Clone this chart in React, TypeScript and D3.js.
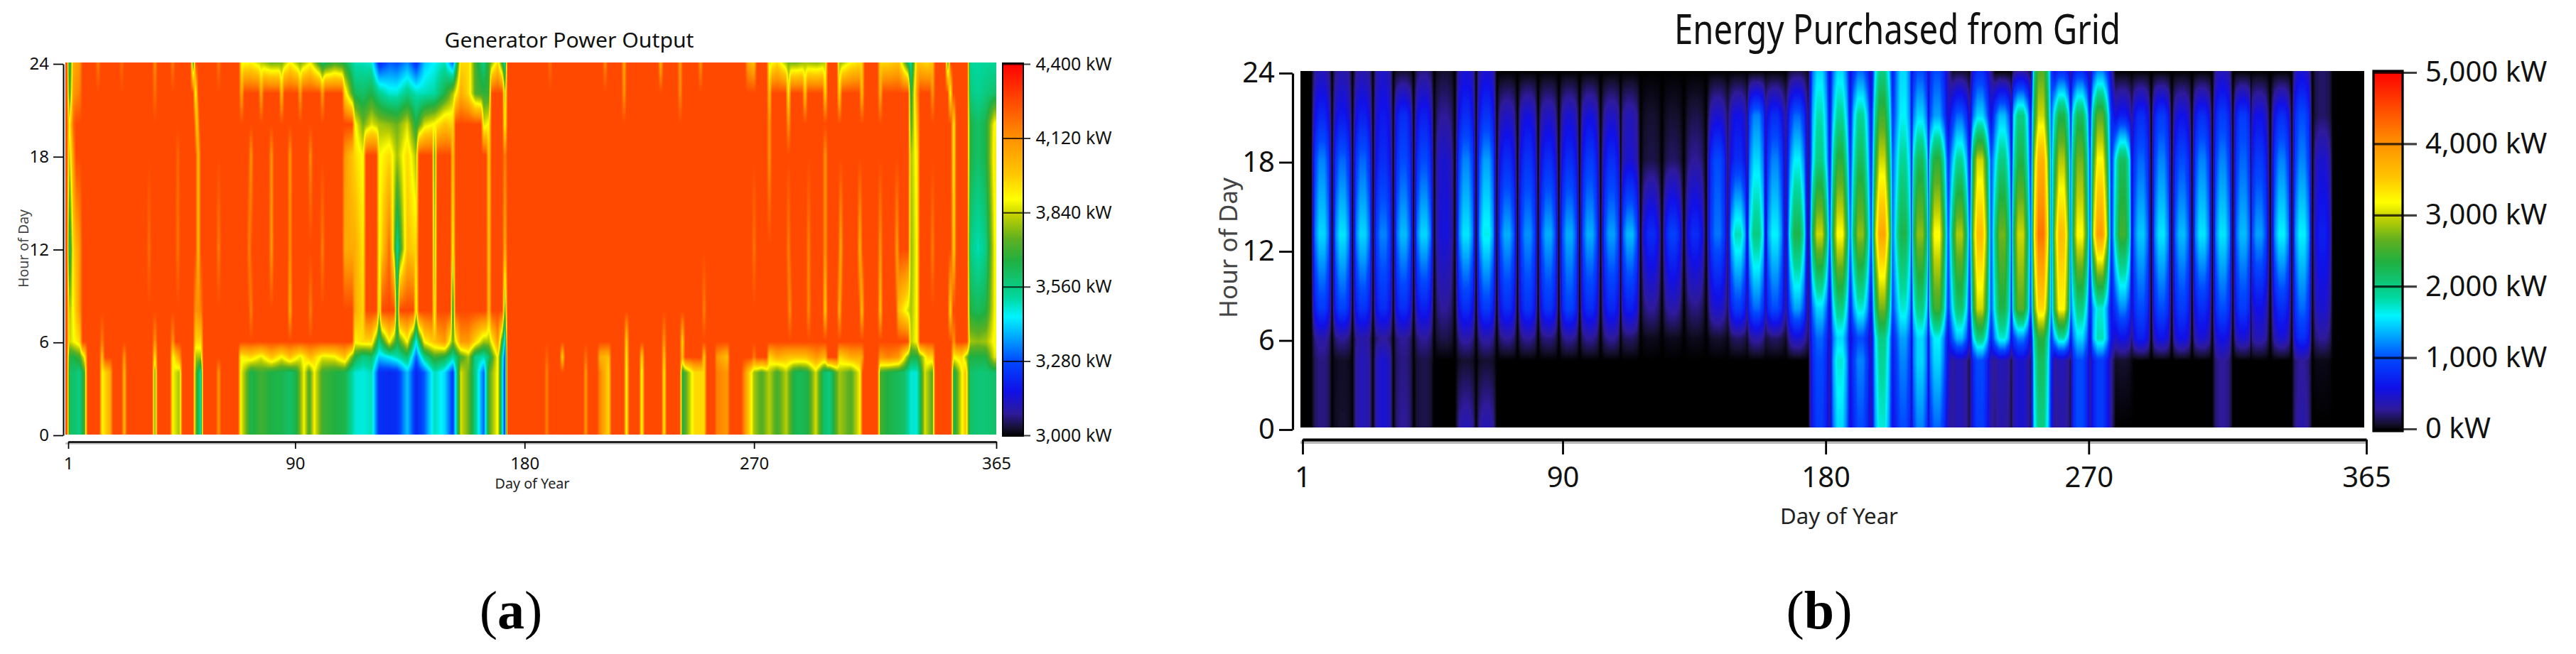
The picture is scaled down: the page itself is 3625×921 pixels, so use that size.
import * as d3 from "d3";
import { useEffect, useRef } from "react";

// shared colour ramp, position on the bar (0 = bottom, 1 = top)
const rampStops = [0, 0.02, 0.06, 0.12, 0.2, 0.26, 0.32, 0.37, 0.47, 0.53, 0.59, 0.635, 0.7, 0.8, 0.9, 1];
const rampColors = ["#000000", "#14102e", "#2e1a9a", "#1010e8", "#0048ff", "#00a0ff", "#00f4ff", "#00d8a0", "#20b040", "#60b020", "#c0d000", "#ffff00", "#ffc800", "#ff9000", "#ff4800", "#ff0000"];

const dayTicks = [1, 90, 180, 270, 365];
const hourTicks = [0, 6, 12, 18, 24];
const genLegend = [3000, 3280, 3560, 3840, 4120, 4400];
const gridLegend = [0, 1000, 2000, 3000, 4000, 5000];

// (a) generator: flat output, with dips read as [day, kW] per hour row
const genPlateau = 4260;
const dipsNight = [[1.5,3600],[3,3600],[5.5,3560],[7.5,3720],[14.3,3900],[17.5,4050],[23,4020],[35,3720],[42,3880],[44.7,3800],[51,3750],[53,3500],[60,4100],[68.7,3880],[72.7,3640],[76.7,3700],[80.7,3650],[84.7,3640],[88,3600],[90.5,3650],[93.5,3880],[95.5,3700],[97.5,3880],[100.7,3700],[105.5,3660],[109.5,3640],[113.5,3480],[116.7,3470],[120,3500],[123,3230],[127,3220],[130,3230],[134,3400],[137.5,3210],[140.7,3300],[144.7,3500],[148.7,3420],[151.9,3250],[155,3850],[158,3750],[160.7,3550],[164,3300],[166,3720],[169.5,3900],[172.3,3220],[188.7,4150],[204,4100],[209.5,4150],[213,3950],[220,3870],[226,3850],[234.7,3920],[241.9,3650],[246.7,3950],[250.4,3950],[255.5,4150],[259.5,4100],[266,4150],[270,3800],[273,3720],[276,3820],[279,3700],[282.6,3820],[285.5,3650],[288,3620],[291,3650],[294.2,3850],[297,3620],[299.5,3560],[303.5,3800],[308,3720],[311.5,3880],[319.5,3700],[322.7,3650],[326.7,3620],[329,3600],[331.5,3480],[334,3480],[337,3850],[340,3720],[348.3,3620],[351.5,3880],[353,4000],[354.7,3600],[357.9,3580],[361,3580],[364.3,3600]];
const dipsH5 = [[1.5,3650],[3,3650],[5.5,3700],[7.5,3900],[14.3,4000],[23,4100],[35,3900],[42,3880],[44.7,4100],[51,3800],[53,3800],[68.7,3900],[72.7,3950],[76.7,3860],[80.7,4000],[84.7,3880],[88,4000],[92,3860],[96,4020],[100.7,3860],[105.5,3880],[109.5,4000],[113.5,3660],[116.7,3560],[120,3600],[123,3400],[127,3450],[130,3500],[134,3600],[137.5,3300],[140.7,3550],[144.7,3700],[148.7,3650],[151.9,3520],[155,3700],[158,3800],[160.7,3550],[164,3500],[166,3600],[169.5,3900],[172.3,3260],[188.7,4200],[194.8,3950],[204,4180],[209.5,4050],[213,4000],[220,3900],[226,3950],[234.7,4000],[241.9,4000],[250.4,3970],[255.5,4100],[259.5,4000],[270,4150],[276,3950],[279,4050],[283.5,4000],[286.7,4000],[290,4000],[294.7,4100],[297.9,4020],[303.5,3950],[308,4050],[312.3,4050],[319.5,4100],[322.7,4150],[326.7,4100],[331.5,3650],[334,3650],[338,3950],[340,3950],[348.3,3900],[351.5,3950],[354.7,3650],[357.9,3650],[361,3650],[364.3,3860]];
const dipsH6 = [[1.5,3830],[3,3880],[5.5,3950],[14.3,4150],[35,4100],[42,4100],[51,3950],[53,3950],[113.5,3900],[116.7,3950],[120,3950],[123,3560],[127,3900],[130,3650],[134,3900],[137.5,3450],[140.7,3900],[144.7,4000],[148.7,4100],[151.9,3750],[155,4100],[158,4100],[160.7,3950],[164,3800],[166,3800],[169.5,4100],[172.3,3400],[220,3950],[234.7,4100],[241.9,3950],[331.5,3820],[334,3900],[348.3,4100],[354.7,3800],[357.9,3780],[361,3800],[364.3,3900]];
const dipsH8 = [[1.5,3800],[3,3900],[5.5,4100],[51,4100],[53,4150],[72.7,4150],[88,4050],[96,4150],[113.5,4050],[116.7,3950],[123,3800],[130,3550],[137.5,3850],[144.7,3850],[151.9,3600],[166,4000],[172.3,3700],[250.4,4150],[284,4120],[291.4,4120],[297.9,3980],[303.5,4040],[312.3,4000],[319.5,4000],[326.7,4000],[331.5,3800],[334,3900],[347,3950],[354.7,3650],[357.9,3620],[361,3650],[364.3,3880]];
const dipsH12 = [[1.5,3560],[3,3950],[5.5,4100],[32.7,4180],[44,4170],[52,4000],[60,4150],[72,4150],[80.7,4080],[88,4120],[100.7,4150],[109.5,4050],[113.5,4050],[116.7,3920],[123,3880],[127,4200],[130,3520],[134,4000],[137.5,3950],[144.7,3780],[151.9,3880],[166,3980],[172.3,4050],[270,4170],[283.5,4150],[291.4,4140],[297.9,4100],[304,4050],[311.5,4030],[319.5,4100],[326,4080],[331.5,3780],[334,3900],[340,4150],[348.3,3950],[354.7,3560],[357.9,3500],[361,3560],[364.3,3880]];
const dipsH18 = [[1.5,3800],[3,4100],[44,4200],[52,4000],[72.7,4100],[80.7,4100],[88,4100],[96,4120],[109.5,4100],[113.5,3950],[116.7,3880],[123,3880],[127,3950],[130,3800],[134,3950],[137.5,3800],[144.7,3700],[151.9,4000],[166,3960],[172.3,4150],[276,4100],[297.9,4100],[331.5,3800],[334,3920],[348.3,3900],[354.7,3650],[357.9,3600],[361,3650],[364.3,3920]];
const dipsH20 = [[1.5,3880],[3,4200],[51.5,3950],[113.5,3900],[116.7,3750],[120,3860],[123,3800],[127,3780],[130,3750],[134,3850],[137.5,3650],[140.7,3850],[144.7,3900],[148.7,4000],[151.9,3950],[164,3850],[166,3900],[172.3,3880],[276,4100],[283.5,4100],[331.5,3700],[334,4000],[348.3,3900],[354.7,3650],[357.9,3600],[361,3650],[364.3,3900]];
const dipsH22 = [[1.5,3650],[3,4100],[5.5,4150],[35,4180],[51,3870],[69,4050],[76.7,4050],[84.7,4000],[92,4080],[100.7,4080],[109.5,3950],[113.5,3620],[116.7,3600],[120,3650],[123,3550],[127,3480],[130,3480],[134,3560],[137.5,3500],[140.7,3500],[144.7,3520],[148.7,3650],[151.9,3800],[155,4050],[158,3950],[160.7,3720],[164,3680],[166,3680],[172.3,3800],[219,4100],[241,4120],[276,4000],[283.5,3900],[290,3980],[297.9,3950],[303.5,3950],[312.3,4000],[319.5,4040],[331.5,3620],[334,4100],[340,4100],[347,3880],[354.7,3570],[357.9,3540],[361,3570],[364.3,3600]];
const dipsH24 = [[1.5,3560],[3,4050],[5.5,4100],[12.7,4150],[22,4180],[35,4120],[42,4150],[50,3650],[60,4160],[69,3880],[72.7,3900],[76.7,3820],[80.7,3750],[84.7,3760],[88,3900],[92,3760],[96,3880],[100.7,3600],[105.5,3700],[109.5,3640],[113.5,3500],[116.7,3500],[120,3480],[123,3220],[127,3300],[130,3280],[134,3350],[137.5,3230],[140.7,3400],[144.7,3450],[148.7,3500],[151.9,3300],[155,3950],[158,3950],[160.7,3700],[164,3560],[166,3700],[169.5,3950],[172.3,3500],[190,4180],[211.6,4120],[219,4050],[233.4,4020],[241,4080],[249,4100],[267.5,4080],[270,4000],[276,3850],[279,3950],[283.5,3760],[286.7,3760],[290,3800],[294.7,3780],[297.9,3820],[303.5,3780],[308,3900],[312.3,3950],[319.5,3950],[322.7,3960],[326.7,4000],[331.5,3510],[334,4000],[338,3950],[340,4000],[346,3680],[354.7,3530],[357.9,3520],[361,3530],[364.3,3530]];

const genHours = [0, 4, 5, 6, 8, 12, 18, 20, 22, 24];
const genDips = [dipsNight, dipsNight, dipsH5, dipsH6, dipsH8, dipsH12, dipsH18, dipsH20, dipsH22, dipsH24];

// (b) grid purchase: one stripe per working week, values at the stripe centre
const stripeDays = [7.6,14.6,21.6,28.6,35.5,42.5,49.5,56.9,63.9,71,78.1,85.1,92.3,99.3,106.7,113,120.3,127.7,135.3,143,150,156.3,162.6,170.2,177.9,184.9,191.9,199.3,206.5,212.3,218.1,225.8,232.8,240.4,246.7,253.7,260.7,267,273.9,281.6,287.9,294.9,301.9,308.8,315.8,322.8,328.3,336,343,350];
const gridAt0 = [250,100,400,500,300,150,0,400,400,0,0,0,0,0,0,0,0,0,0,0,0,0,0,0,900,1500,1000,1700,1000,1200,1100,400,900,350,500,2000,350,1000,900,0,0,0,0,0,300,0,0,0,350,0];
const gridAt4 = [250,80,400,500,250,150,0,100,100,0,0,0,0,0,0,0,0,0,0,0,0,0,0,0,1000,1700,1200,1900,1200,1500,1500,400,1000,400,500,2200,400,1000,900,100,0,0,0,0,300,0,0,0,300,50];
const gridAt6 = [350,300,350,300,300,300,150,350,350,300,300,250,300,300,300,200,60,60,60,100,200,350,200,500,1100,1500,1000,2000,1300,1500,1600,1400,2000,1700,1200,2400,1800,1500,1800,600,700,600,600,500,600,500,400,500,800,300];
const gridAt8 = [900,950,850,800,800,700,300,800,900,800,850,850,950,800,750,700,300,350,250,500,900,1100,1000,1300,1500,2000,1700,2700,1700,2000,2500,2100,3000,2300,2600,3400,3200,2000,1700,1200,1000,1000,900,800,1000,900,600,800,1100,500];
const gridAt13 = [1500,1550,1500,1200,1400,1500,550,1550,1650,1350,1250,1350,1350,1350,1300,1400,800,950,800,1150,1800,2000,1600,2300,3000,3200,2800,3800,2300,2800,3200,2900,3600,2700,3000,4200,3600,3200,3900,2500,1450,1550,1400,1550,1550,1400,1300,1600,1600,700];
const gridAt18 = [1200,1100,1100,800,1000,1000,500,1200,1300,800,850,800,800,900,800,500,150,200,300,1000,800,1500,1200,1600,2000,2400,2200,3000,1900,2200,2400,1900,3000,2000,2300,3700,2900,2700,3200,2200,1100,1200,1000,1200,1200,1100,900,1200,1200,500];
const gridAt21 = [750,650,700,650,800,700,300,800,850,450,550,450,500,550,450,400,100,100,150,500,600,1200,800,1100,1800,1900,1900,2500,1600,1500,1300,1100,1500,1400,2000,3000,2300,2200,2600,700,800,900,600,800,900,900,600,800,1000,200];
const gridAt24 = [400,350,350,450,100,250,100,500,500,0,0,0,0,0,0,0,0,0,0,0,0,0,0,150,1500,1500,1100,2000,1500,1000,1000,100,800,0,300,2600,800,800,1200,0,0,0,0,0,400,0,0,0,500,200];
const gridGaps = [0,0,0,0,0,0,0,0,0,0,0,0,0,0,0,0,0,0,0,200,500,400,300,200,1000,1100,1000,1100,1100,1100,1000,1100,1000,1000,1100,1200,1100,1000,800,500,0,0,0,0,0,0,0,0,0,0];
const gridHours = [0, 4.5, 6, 8, 13, 18, 21, 24];
const gridRows = [gridAt0, gridAt4, gridAt6, gridAt8, gridAt13, gridAt18, gridAt21, gridAt24];

const ramp = d3.scaleLinear<string>().domain(rampStops).range(rampColors).clamp(true);
const lut = d3.range(1024).map((i) => {
	const c = d3.rgb(ramp(i / 1023));
	return [c.r, c.g, c.b];
});

// neighbouring dips join up, far apart ones fall back to the plateau between them
function genRow(i: number) {
	const days: number[] = [0];
	const vals: number[] = [genPlateau];
	genDips[i].forEach(([at, kw], k) => {
		const prev = genDips[i][k - 1]?.[0] ?? -10;
		if (at - prev > 5) {
			days.push(Math.max(at - 1.1, 0.01));
			vals.push(genPlateau);
		}
		days.push(at);
		vals.push(kw);
		const next = genDips[i][k + 1]?.[0] ?? 400;
		if (next - at > 5 && at < 364) {
			days.push(at + 1.1);
			vals.push(genPlateau);
		}
	});
	days.push(366);
	vals.push(vals[vals.length - 1]);
	return d3.scaleLinear().domain(days).range(vals);
}

function gridRow(i: number) {
	const days: number[] = [0, 4];
	const vals: number[] = [0, 0];
	stripeDays.forEach((d, k) => {
		const v = gridRows[i][k];
		const next = stripeDays[k + 1] ?? d + 7;
		days.push(d - 2.4, d - 0.9, d + 0.9, d + 2.4, (d + next) / 2);
		vals.push(v * 0.75, v, v, v * 0.75, k < stripeDays.length - 1 ? Math.min(gridGaps[k], v * 0.35) : 0);
	});
	days.push(365);
	vals.push(0);
	return d3.scaleLinear().domain(days).range(vals);
}

type PanelProps = {
	title: string;
	titleX: number;
	titleY: number;
	titleSize: number;
	titleLen: number;
	tag: string;
	tagX: number;
	hours: number[];
	rows: ((day: number) => number)[];
	max: number;
	min: number;
	legend: number[];
	left: number;
	right: number;
	top: number;
	bottom: number;
	day1: number;
	day365: number;
	axisY: number;
	axisW: number;
	dayTick: number;
	dayPad: number;
	yAxisX: number;
	yTop: number;
	yBottom: number;
	yTick: number;
	yPad: number;
	barX: number;
	barW: number;
	barTop: number;
	barBottom: number;
	barOut: number;
	tickFont: number;
	legendFont: number;
	legendTop: number;
	legendBottom: number;
	xLabel: [number, number, number, number];
	yLabel: [number, number, number, number];
};

function Panel(p: PanelProps) {
	const imgRef = useRef<SVGImageElement>(null);
	const xRef = useRef<SVGGElement>(null);
	const yRef = useRef<SVGGElement>(null);
	const barRef = useRef<SVGGElement>(null);

	const x = d3.scaleLinear().domain([1, 365]).range([p.day1, p.day365]);
	const y = d3.scaleLinear().domain([0, 24]).range([p.yBottom, p.yTop]);
	const cellY = d3.scaleLinear().domain([0, 24]).range([p.bottom, p.top]);
	const val = d3.scaleLinear().domain([p.min, p.max]).range([0, 1]).clamp(true);
	const legendY = d3.scaleLinear().domain([p.min, p.max]).range([p.legendBottom, p.legendTop]);
	const gradId = `ramp-${p.tag}`;

	useEffect(() => {
		const w = Math.round(p.right - p.left);
		const h = Math.round(p.bottom - p.top);
		const canvas = document.createElement("canvas");
		canvas.width = w;
		canvas.height = h;
		const ctx = canvas.getContext("2d")!;
		const img = ctx.createImageData(w, h);
		for (let px = 0; px < w; px++) {
			const day = x.invert(p.left + px + 0.5);
			const rowVals = p.rows.map((r) => r(day));
			const byHour = d3.scaleLinear().domain(p.hours).range(rowVals);
			for (let py = 0; py < h; py++) {
				const hour = cellY.invert(p.top + py + 0.5);
				const c = lut[Math.round(val(byHour(hour)) * 1023)];
				const o = (py * w + px) * 4;
				img.data[o] = c[0];
				img.data[o + 1] = c[1];
				img.data[o + 2] = c[2];
				img.data[o + 3] = 255;
			}
		}
		ctx.putImageData(img, 0, 0);
		imgRef.current?.setAttribute("href", canvas.toDataURL());

		const xg = d3.select(xRef.current!);
		xg.call(d3.axisBottom(x).tickValues(dayTicks).tickFormat(d3.format("d")).tickSize(p.dayTick).tickPadding(p.dayPad).tickSizeOuter(0));
		xg.select(".domain").attr("stroke-width", p.axisW);
		xg.selectAll("text").attr("font-size", p.tickFont).attr("font-family", "'Noto Sans'").attr("fill", "#111");
		xg.selectAll(".tick line").attr("stroke-width", p.axisW * 0.7);

		const yg = d3.select(yRef.current!);
		yg.call(d3.axisLeft(y).tickValues(hourTicks).tickFormat(d3.format("d")).tickSize(p.yTick).tickPadding(p.yPad).tickSizeOuter(0));
		yg.select(".domain").attr("stroke-width", p.axisW * 0.8);
		yg.selectAll("text").attr("font-size", p.tickFont).attr("font-family", "'Noto Sans'").attr("fill", "#111");
		yg.selectAll(".tick line").attr("stroke-width", p.axisW * 0.7);

		const bg = d3.select(barRef.current!);
		bg.call(d3.axisRight(legendY).tickValues(p.legend).tickFormat((v) => `${d3.format(",")(v as number)} kW`).tickSize(p.barOut).tickPadding(p.legendFont * 0.3).tickSizeOuter(0));
		bg.select(".domain").remove();
		bg.selectAll(".tick line").attr("x1", -p.barW).attr("stroke-width", p.axisW * 0.8).attr("stroke-opacity", 0.75);
		bg.selectAll("text").attr("font-size", p.legendFont).attr("font-family", "'Noto Sans'").attr("fill", "#111");
	}, []);

	const [xlx, xly, xls, xll] = p.xLabel;
	const [ylx, yly, yls, yll] = p.yLabel;

	return (
		<g>
			<defs>
				<linearGradient id={gradId} x1="0" y1="1" x2="0" y2="0">
					{rampStops.map((s, i) => (
						<stop key={s} offset={s} stopColor={rampColors[i]} />
					))}
				</linearGradient>
			</defs>
			<text
				x={p.titleX}
				y={p.titleY}
				textAnchor="middle"
				fontFamily="'Noto Sans'"
				fontSize={p.titleSize}
				textLength={p.titleLen}
				lengthAdjust="spacingAndGlyphs"
				fill="#111"
			>
				{p.title}
			</text>
			<image ref={imgRef} x={p.left} y={p.top} width={p.right - p.left} height={p.bottom - p.top} preserveAspectRatio="none" />
			<line x1={p.left} x2={p.day365 + 1} y1={p.axisY + p.axisW} y2={p.axisY + p.axisW} stroke="#bbb" strokeWidth={p.axisW} />
			<g ref={xRef} transform={`translate(0,${p.axisY})`} />
			<g ref={yRef} transform={`translate(${p.yAxisX},0)`} />
			<rect x={p.barX} y={p.barTop} width={p.barW} height={p.barBottom - p.barTop} fill={`url(#${gradId})`} stroke="#000" strokeWidth={p.axisW * 0.8} />
			<g ref={barRef} transform={`translate(${p.barX + p.barW},0)`} />
			<text x={xlx} y={xly} textAnchor="middle" fontFamily="'Noto Sans'" fontSize={xls} textLength={xll} lengthAdjust="spacingAndGlyphs" fill="#222">
				Day of Year
			</text>
			<text
				transform={`translate(${ylx},${yly}) rotate(-90)`}
				textAnchor="middle"
				fontFamily="'Noto Sans'"
				fontSize={yls}
				textLength={yll}
				lengthAdjust="spacingAndGlyphs"
				fill="#444"
			>
				Hour of Day
			</text>
			<text x={p.tagX} y={885} textAnchor="middle" fontFamily="'Liberation Serif'" fontSize={76} fill="#000">
				(<tspan fontWeight="bold">{p.tag}</tspan>)
			</text>
		</g>
	);
}

export default function App() {
	useEffect(() => {
		document.body.style.margin = "0";
	}, []);
	return (
		<svg width={3625} height={921} style={{ position: "absolute", left: 0, top: 0, background: "#fff" }}>
			<Panel
				title="Generator Power Output"
				titleX={801}
				titleY={67}
				titleSize={29}
				titleLen={351}
				tag="a"
				tagX={719}
				hours={genHours}
				rows={genHours.map((_, i) => genRow(i))}
				min={3000}
				max={4400}
				legend={genLegend}
				left={92}
				right={1402}
				top={88}
				bottom={612}
				day1={96}
				day365={1402}
				axisY={622}
				axisW={2.5}
				dayTick={10}
				dayPad={12}
				yAxisX={89}
				yTop={90}
				yBottom={613}
				yTick={14}
				yPad={6}
				barX={1411}
				barW={29}
				barTop={89}
				barBottom={614}
				barOut={10}
				tickFont={24}
				legendFont={25}
				legendTop={90}
				legendBottom={613}
				xLabel={[749, 688, 20, 105]}
				yLabel={[40, 350, 20, 110]}
			/>
			<Panel
				title="Energy Purchased from Grid"
				titleX={2670}
				titleY={62}
				titleSize={58}
				titleLen={628}
				tag="b"
				tagX={2560}
				hours={gridHours}
				rows={gridHours.map((_, i) => gridRow(i))}
				min={0}
				max={5000}
				legend={gridLegend}
				left={1830}
				right={3327}
				top={100}
				bottom={602}
				day1={1833}
				day365={3330}
				axisY={619}
				axisW={4}
				dayTick={21}
				dayPad={18}
				yAxisX={1819}
				yTop={103}
				yBottom={605}
				yTick={19}
				yPad={6}
				barX={3340}
				barW={41}
				barTop={100}
				barBottom={607}
				barOut={20}
				tickFont={40}
				legendFont={40}
				legendTop={102}
				legendBottom={604}
				xLabel={[2588, 738, 31, 166]}
				yLabel={[1741, 349, 34, 198]}
			/>
		</svg>
	);
}
